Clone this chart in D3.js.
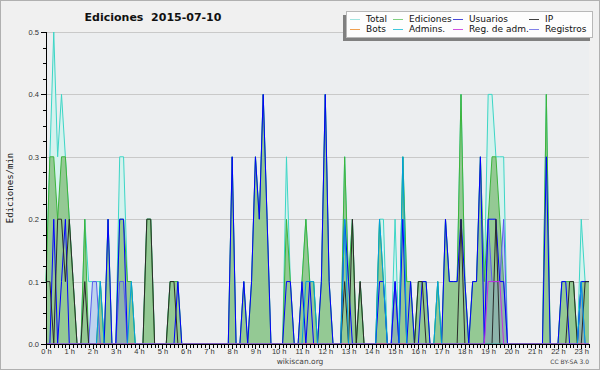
<!DOCTYPE html>
<html>
<head>
<meta charset="utf-8">
<script src="https://cdn.jsdelivr.net/npm/d3@7"></script>
<style>
  body { margin: 0; background: #f0f0f0; }
  svg { display: block; font-family: "DejaVu Sans", sans-serif; }
  .axis path, .axis line { stroke: #000; shape-rendering: crispEdges; }
  .axis text { font-size: 7.5px; fill: #333; }
</style>
</head>
<body>
<div id="chart"></div>
<script>
// Edits per 10-minute slot, 2015-07-10, slots 0 (00:00) .. 140 (23:20).
// One row per hour. Plotted as edits/min (count / 10).
var total = [
  1,3,5,3,4,3,  2,1,0,0,2,1,  1,1,1,0,2,0,  0,3,3,1,1,0,
  0,0,2,2,0,0,  0,0,1,1,1,0,  0,0,0,0,0,0,  0,0,0,0,0,0,
  3,0,0,1,0,1,  3,2,4,2,0,0,  0,0,3,1,0,0,  1,2,1,1,0,1,
  4,1,0,0,0,3,  1,2,0,1,0,0,  0,0,2,2,0,0,  2,0,3,1,1,0,
  1,1,1,0,0,1,  0,2,1,1,1,4,  1,0,1,1,3,1,  4,4,3,3,3,0,
  0,0,0,0,0,0,  0,0,0,4,0,0,  0,1,1,1,1,0,  2,1,1
];
var ediciones = [
  1,3,3,2,3,3,  2,1,0,0,2,0,  0,0,1,0,2,0,  0,2,2,1,1,0,
  0,0,2,2,0,0,  0,0,1,1,1,0,  0,0,0,0,0,0,  0,0,0,0,0,0,
  3,0,0,1,0,1,  3,2,4,2,0,0,  0,0,2,1,0,0,  1,2,1,1,0,1,
  4,1,0,0,0,3,  1,2,0,1,0,0,  0,0,2,1,0,0,  1,0,3,1,1,0,
  1,1,1,0,0,1,  0,2,1,1,1,4,  1,0,1,1,3,1,  2,3,3,2,1,0,
  0,0,0,0,0,0,  0,0,0,4,0,0,  0,1,1,1,1,0,  1,1,1
];
var usuarios = [
  0,0,2,0,1,2,  0,0,0,0,0,0,  0,0,0,0,2,0,  0,2,2,0,0,0,
  0,0,0,0,0,0,  0,0,0,0,1,0,  0,0,0,0,0,0,  0,0,0,0,0,0,
  3,0,0,1,0,1,  3,2,4,2,0,0,  0,0,1,1,0,0,  1,0,1,0,0,1,
  4,1,0,0,0,2,  1,0,0,0,0,0,  0,0,1,1,0,0,  1,0,2,0,1,0,
  0,1,1,0,0,0,  0,2,1,1,1,2,  1,0,1,1,3,0,  2,2,2,1,1,0,
  0,0,0,0,0,0,  0,0,0,3,0,0,  0,1,1,0,0,0,  1,1,1
];
var ip = [
  1,1,0,2,2,1,  2,1,0,0,1,0,  0,0,0,0,0,0,  0,0,0,0,0,0,
  0,0,2,2,0,0,  0,0,1,1,0,0,  0,0,0,0,0,0,  0,0,0,0,0,0,
  0,0,0,0,0,0,  0,0,0,0,0,0,  0,0,0,0,0,0,  0,0,0,0,0,0,
  0,0,0,0,0,1,  0,2,0,1,0,0,  0,0,0,0,0,0,  0,0,0,0,0,0,
  1,1,0,0,0,0,  0,0,0,0,0,2,  0,0,0,0,0,0,  0,0,2,0,0,0,
  0,0,0,0,0,0,  0,0,0,0,0,0,  0,0,0,1,1,0,  0,1,1
];
var bots = d3.range(141).map(function() { return 0; });
var admins = [
  0,0,0,0,0,0,  0,0,0,0,0,0,  0,0,1,0,0,0,  0,0,0,0,1,0,
  0,0,0,0,0,0,  0,0,0,0,0,0,  0,0,0,0,0,0,  0,0,0,0,0,0,
  0,0,0,0,0,0,  0,0,0,0,0,0,  0,0,0,0,0,0,  0,1,1,1,0,0,
  0,0,0,0,0,2,  0,0,0,0,0,0,  0,0,2,1,0,0,  0,0,3,0,0,0,
  0,0,0,0,0,1,  0,0,0,0,0,0,  0,0,0,0,0,0,  0,0,0,0,0,0,
  0,0,0,0,0,0,  0,0,0,0,0,0,  0,0,0,0,0,0,  1,0,0
];
var regAdm = [
  0,0,0,0,0,0,  0,0,0,0,0,0,  0,0,0,0,0,0,  0,0,0,0,0,0,
  0,0,0,0,0,0,  0,0,0,0,0,0,  0,0,0,0,0,0,  0,0,0,0,0,0,
  0,0,0,0,0,0,  0,0,0,0,0,0,  0,0,0,0,0,0,  0,0,0,0,0,0,
  0,0,0,0,0,0,  0,0,0,0,0,0,  0,0,0,0,0,0,  0,0,0,0,0,0,
  0,0,0,0,0,0,  0,0,0,0,0,0,  0,0,0,0,0,0,  1,1,1,1,0,0,
  0,0,0,0,0,0,  0,0,0,0,0,0,  0,0,0,0,0,0,  0,0,0
];
var registros = [
  0,0,0,0,0,0,  0,0,0,0,0,0,  1,1,0,0,0,0,  0,1,1,0,0,0,
  0,0,0,0,0,0,  0,0,0,0,0,0,  0,0,0,0,0,0,  0,0,0,0,0,0,
  0,0,0,0,0,0,  0,0,0,0,0,0,  0,0,0,0,0,0,  0,0,0,0,0,0,
  0,0,0,0,0,0,  0,0,0,0,0,0,  0,0,0,0,0,0,  1,0,0,0,0,0,
  0,0,0,0,0,0,  0,0,0,0,0,0,  0,0,0,0,0,0,  2,1,1,1,2,0,
  0,0,0,0,0,0,  0,0,0,0,0,0,  0,0,0,0,0,0,  1,0,0
];

var legendRow1 = ["Total", "Ediciones", "Usuarios", "IP"];
var legendRow2 = ["Bots", "Admins.", "Reg. de adm.", "Registros"];
var yTicks = [0, 0.1, 0.2, 0.3, 0.4, 0.5];
var chartTitle = "Ediciones  2015-07-10";
var yTitle = "Ediciones/min";

var slotMinutes = 10;

var svgWidth = 600;
var svgHeight = 370;
var margin = { top: 32, right: 11, bottom: 26, left: 46 };
var width = svgWidth - margin.left - margin.right;
var height = svgHeight - margin.top - margin.bottom;

var svg = d3.select("#chart")
  .append("svg")
  .attr("width", svgWidth)
  .attr("height", svgHeight);

// outer background + border
svg.append("rect")
  .attr("x", 0.5).attr("y", 0.5)
  .attr("width", svgWidth - 1).attr("height", svgHeight - 1)
  .attr("fill", "#f0f0f0")
  .attr("stroke", "#b0b0b0");

var chartGroup = svg.append("g")
  .attr("transform", `translate(${margin.left}, ${margin.top})`);

chartGroup.append("rect")
  .attr("width", width).attr("height", height)
  .attr("fill", "#eceef0");

var xScale = d3.scaleLinear()
  .domain([0, (total.length - 1) * slotMinutes])
  .range([0, width]);

var yScale = d3.scaleLinear()
  .domain([0, 0.5])
  .range([height, 0]);

// gridlines
chartGroup.selectAll(".grid")
  .data(yTicks.slice(1))
  .enter()
  .append("line")
  .attr("x1", 0).attr("x2", width)
  .attr("y1", d => Math.round(yScale(d)) + 0.5)
  .attr("y2", d => Math.round(yScale(d)) + 0.5)
  .attr("stroke", "#c9c9c9");

function perMin(v) { return v / slotMinutes; }

var area = d3.area()
  .x((d, i) => xScale(i * slotMinutes))
  .y0(height)
  .y1(d => yScale(perMin(d)));

var line = d3.line()
  .x((d, i) => xScale(i * slotMinutes))
  .y(d => yScale(perMin(d)));

// Total
chartGroup.append("path").datum(total)
  .attr("d", area).attr("fill", "#d5f2ee");
chartGroup.append("path").datum(total)
  .attr("d", line).attr("fill", "none").attr("stroke", "#3cd6c6").attr("stroke-width", 1);

// Ediciones
chartGroup.append("path").datum(ediciones)
  .attr("d", area).attr("fill", "#94c994");
chartGroup.append("path").datum(ediciones)
  .attr("d", line).attr("fill", "none").attr("stroke", "#3cb43c").attr("stroke-width", 1);

// Registros
chartGroup.append("path").datum(registros)
  .attr("d", area).attr("fill", "#7878f0").attr("fill-opacity", 0.25);
chartGroup.append("path").datum(registros)
  .attr("d", line).attr("fill", "none").attr("stroke", "#5a5af0").attr("stroke-width", 1);

// Usuarios
chartGroup.append("path").datum(usuarios)
  .attr("d", line).attr("fill", "none").attr("stroke", "#0000ff").attr("stroke-width", 1);

// IP
chartGroup.append("path").datum(ip)
  .attr("d", line).attr("fill", "none").attr("stroke", "#2a2a2a").attr("stroke-width", 1);

// Bots
chartGroup.append("path").datum(bots)
  .attr("d", line).attr("fill", "none").attr("stroke", "#f0a040").attr("stroke-width", 1);

// Admins
chartGroup.append("path").datum(admins)
  .attr("d", line).attr("fill", "none").attr("stroke", "#00a0e0").attr("stroke-width", 1);

// Reg. de adm.
chartGroup.append("path").datum(regAdm)
  .attr("d", line).attr("fill", "none").attr("stroke", "#c030e0").attr("stroke-width", 1);

// Y axis
var yMinor = d3.range(0, 0.5001, 0.025);
chartGroup.append("g")
  .attr("class", "axis")
  .call(d3.axisLeft(yScale).tickValues(yMinor).tickSize(3).tickFormat(""));
var yAxis = chartGroup.append("g")
  .attr("class", "axis")
  .call(d3.axisLeft(yScale).tickValues(yTicks).tickSize(5).tickPadding(2).tickFormat(d3.format(".1f")));
yAxis.select(".domain").remove();

// X axis
var xMinor = d3.range(0, xScale.domain()[1] + 1, slotMinutes);
var xHours = d3.range(0, xScale.domain()[1] + 1, 60);
chartGroup.append("g")
  .attr("class", "axis")
  .attr("transform", `translate(0, ${height})`)
  .call(d3.axisBottom(xScale).tickValues(xMinor).tickSize(4).tickFormat(""));
var xAxis = chartGroup.append("g")
  .attr("class", "axis")
  .attr("transform", `translate(0, ${height})`)
  .call(d3.axisBottom(xScale).tickValues(xHours).tickSize(5).tickFormat(d => (d / 60) + " h"));
xAxis.select(".domain").remove();
xAxis.selectAll("text").attr("y", 10).attr("dy", 0);

// Titles
svg.append("text")
  .attr("x", 153).attr("y", 21)
  .attr("text-anchor", "middle")
  .style("white-space", "pre")
  .style("font-size", "11px").style("font-weight", "bold").attr("fill", "#111")
  .text(chartTitle);

svg.append("text")
  .attr("transform", `translate(13, ${margin.top + height / 2}) rotate(-90)`)
  .attr("text-anchor", "middle")
  .style("font-family", "DejaVu Sans Mono").style("font-size", "9px").attr("fill", "#111")
  .text(yTitle);

svg.append("text")
  .attr("x", 300).attr("y", 364)
  .attr("text-anchor", "middle")
  .style("font-size", "7.5px").attr("fill", "#444")
  .text("wikiscan.org");

svg.append("text")
  .attr("x", 589).attr("y", 364)
  .attr("text-anchor", "end")
  .style("font-size", "6px").attr("fill", "#444")
  .text("CC BY-SA 3.0");

// Legend
var legend = svg.append("g");
legend.append("rect")
  .attr("x", 343).attr("y", 15).attr("width", 247).attr("height", 26)
  .attr("fill", "#808080");
legend.append("rect")
  .attr("x", 346.5).attr("y", 11.5).attr("width", 246).attr("height", 26)
  .attr("fill", "#fdfdfd").attr("stroke", "#b8b8b8");

var legendCols = [350, 393, 453, 529];
var legendColors1 = ["#a0e4e0", "#80d080", "#4848d8", "#404040"];
var legendColors2 = ["#f0a050", "#40c8dc", "#d050e0", "#8080e8"];

function drawLegendRow(labels, colors, lineY, textY) {
  labels.forEach(function(label, i) {
    legend.append("line")
      .attr("x1", legendCols[i]).attr("x2", legendCols[i] + 10)
      .attr("y1", lineY).attr("y2", lineY)
      .attr("stroke", colors[i]);
    legend.append("text")
      .attr("x", legendCols[i] + 16).attr("y", textY)
      .style("font-size", "9px").attr("fill", "#111")
      .text(label);
  });
}
drawLegendRow(legendRow1, legendColors1, 19.5, 22);
drawLegendRow(legendRow2, legendColors2, 29.5, 32);
</script>
</body>
</html>
